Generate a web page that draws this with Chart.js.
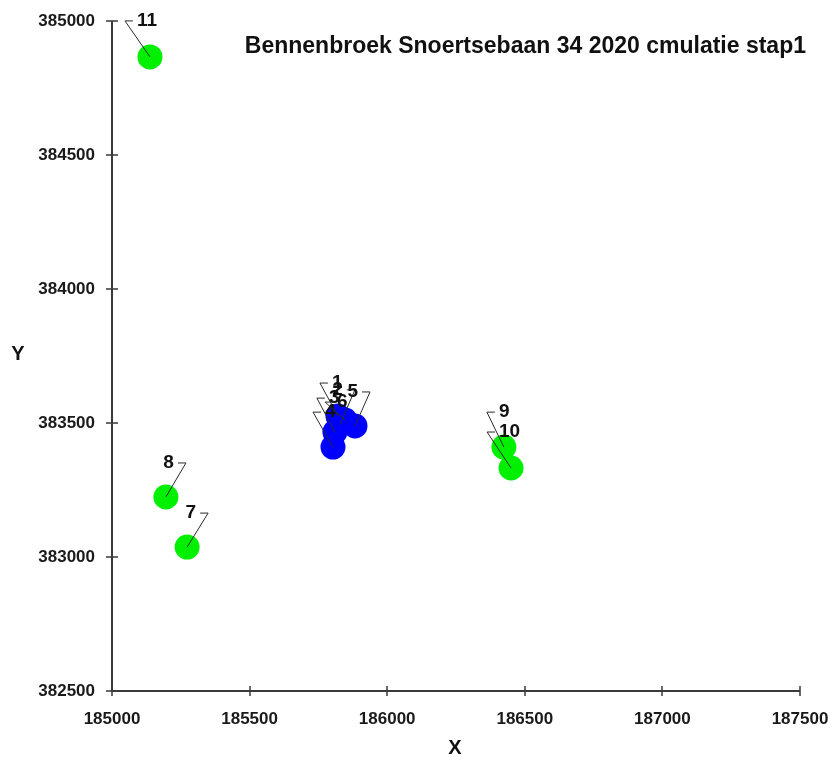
<!DOCTYPE html>
<html>
<head>
<meta charset="utf-8">
<script src="https://cdn.jsdelivr.net/npm/chart.js@4/dist/chart.umd.min.js"></script>
<style>
  html, body { margin: 0; padding: 0; background: #ffffff; }
  #wrap { width: 835px; height: 760px; }
</style>
</head>
<body>
<div id="wrap"><canvas id="c" width="835" height="760"></canvas></div>
<script>
// ---- data ----
const chartTitle = 'Bennenbroek Snoertsebaan 34 2020 cmulatie stap1';
const xAxisTitle = 'X';
const yAxisTitle = 'Y';

const blueIds = ['1', '2', '3', '4', '5', '6'];
const blueX = [185821, 185828, 185810, 185803, 185883, 185847];
const blueY = [383526, 383493, 383466, 383410, 383489, 383511];

const greenIds = ['7', '8', '9', '10', '11'];
const greenX = [185273, 185196, 186424, 186450, 185138];
const greenY = [383037, 383224, 383410, 383332, 384866];

const xTicks = [185000, 185500, 186000, 186500, 187000, 187500];
const yTicks = [382500, 383000, 383500, 384000, 384500, 385000];

// ---- label leader styling (pixel offsets of the elbow, side of text) ----
const leaderStyle = {
  '1': [-18, -33, 1], '2': [15, -35, -1], '3': [-18, -34, 1], '4': [-20, -35, 1],
  '5': [15, -34, -1], '6': [-20, -18, 1],
  '7': [21, -34, -1], '8': [20, -34, -1], '9': [-17, -35, 1], '10': [-24, -36, 1],
  '11': [-25, -36, 1]
};

function toPoints(xs, ys) { return xs.map((x, i) => ({ x: x, y: ys[i] })); }

const FONT = '"Liberation Sans", Arial, sans-serif';

function zeroPad(s) { s.paddingLeft = 0; s.paddingRight = 0; s.paddingTop = 0; s.paddingBottom = 0; }

const decorPlugin = {
  id: 'decor',
  afterDatasetsDraw(chart) {
    const ctx = chart.ctx;
    const xs = chart.scales.x, ys = chart.scales.y;
    const ca = chart.chartArea;
    ctx.save();
    // axes
    ctx.strokeStyle = '#3a3a3a';
    ctx.lineWidth = 2;
    ctx.beginPath();
    ctx.moveTo(ca.left, ca.top);
    ctx.lineTo(ca.left, ca.bottom);
    ctx.lineTo(ca.right, ca.bottom);
    ctx.stroke();
    ctx.lineWidth = 1.5;
    ctx.beginPath();
    xTicks.forEach(v => {
      const px = Math.round(xs.getPixelForValue(v));
      ctx.moveTo(px, ca.bottom - 5); ctx.lineTo(px, ca.bottom + 5);
    });
    yTicks.forEach(v => {
      const py = Math.round(ys.getPixelForValue(v));
      ctx.moveTo(ca.left - 6, py); ctx.lineTo(ca.left + 6, py);
    });
    ctx.stroke();

    // leaders + labels
    ctx.strokeStyle = '#2a2a2a';
    ctx.lineWidth = 1;
    ctx.fillStyle = '#111111';
    ctx.font = 'bold 19px ' + FONT;
    ctx.textBaseline = 'middle';
    chart.data.datasets.forEach((ds, di) => {
      const meta = chart.getDatasetMeta(di);
      meta.data.forEach((el, i) => {
        const id = ds.ids[i];
        const st = leaderStyle[id];
        const ex = el.x + st[0], ey = el.y + st[1];
        const hx = ex + st[2] * 8;
        ctx.beginPath();
        ctx.moveTo(el.x, el.y);
        ctx.lineTo(ex, ey);
        ctx.lineTo(hx, ey);
        ctx.stroke();
        ctx.textAlign = st[2] > 0 ? 'left' : 'right';
        ctx.fillText(id, hx + st[2] * 4, ey);
      });
    });

    // title
    ctx.font = 'bold 23px ' + FONT;
    ctx.textAlign = 'right';
    ctx.textBaseline = 'middle';
    ctx.fillStyle = '#111111';
    ctx.fillText(chartTitle, ca.right + 6, 47);

    // axis titles
    ctx.font = 'bold 20px ' + FONT;
    ctx.textAlign = 'center';
    ctx.fillText(xAxisTitle, 455, 748);
    ctx.fillText(yAxisTitle, 18, 354);
    ctx.restore();
  }
};

new Chart(document.getElementById('c'), {
  type: 'scatter',
  data: {
    datasets: [
      { label: 'blue', ids: blueIds, data: toPoints(blueX, blueY),
        backgroundColor: '#0000ff', borderWidth: 0, pointRadius: 12.5, pointHoverRadius: 12.5 },
      { label: 'green', ids: greenIds, data: toPoints(greenX, greenY),
        backgroundColor: '#00f000', borderWidth: 0, pointRadius: 12.5, pointHoverRadius: 12.5 }
    ]
  },
  options: {
    responsive: false,
    animation: false,
    devicePixelRatio: 1,
    layout: { padding: { top: 21, right: 35, left: 0, bottom: 0 } },
    plugins: { legend: { display: false }, tooltip: { enabled: false }, title: { display: false } },
    scales: {
      x: {
        type: 'linear', min: 185000, max: 187500,
        grid: { display: false }, border: { display: false },
        afterFit(s) { s.height = 69; zeroPad(s); },
        afterBuildTicks(s) { s.ticks = xTicks.map(v => ({ value: v })); },
        ticks: { padding: 10, color: '#1a1a1a', font: { family: FONT, size: 17, weight: 'bold' },
                 maxRotation: 0, callback: v => String(v) }
      },
      y: {
        type: 'linear', min: 382500, max: 385000,
        grid: { display: false }, border: { display: false },
        afterFit(s) { s.width = 112; zeroPad(s); },
        afterBuildTicks(s) { s.ticks = yTicks.map(v => ({ value: v })); },
        ticks: { padding: 9, color: '#1a1a1a', font: { family: FONT, size: 17, weight: 'bold' },
                 callback: v => String(v) }
      }
    }
  },
  plugins: [decorPlugin]
});
</script>
</body>
</html>
